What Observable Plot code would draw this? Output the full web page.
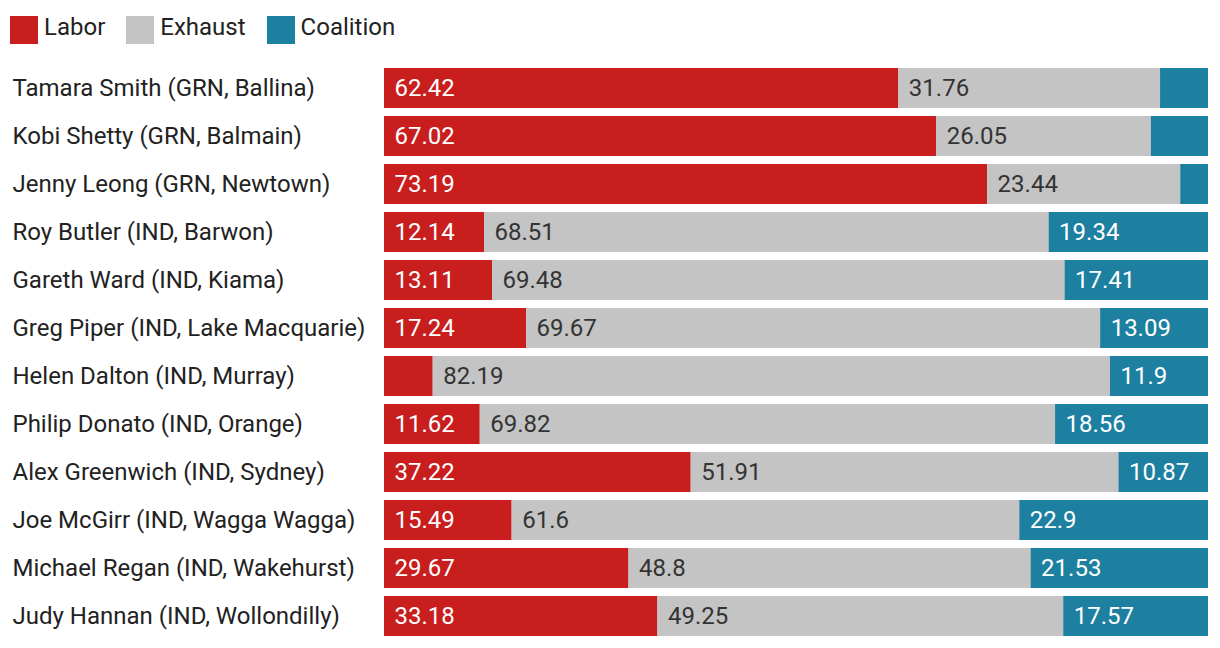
<!DOCTYPE html>
<html><head><meta charset="utf-8">
<script src="https://cdn.jsdelivr.net/npm/d3@7"></script>
<script src="https://cdn.jsdelivr.net/npm/@observablehq/plot@0.6"></script>
<style>
body{margin:0;background:#fff;font-family:Roboto,sans-serif;}
#legend{height:56px;box-sizing:border-box;padding:12px 0 0 10px;display:flex;align-items:flex-start;}
.item{display:flex;align-items:center;margin-right:21px;font-size:24px;color:#222;height:30px;}
.sw{width:28px;height:28px;margin-right:6px;margin-top:4px;align-self:flex-start;}
</style></head><body>
<div id="legend"></div>
<div id="chart"></div>
<script>
const names = ["Tamara Smith (GRN, Ballina)","Kobi Shetty (GRN, Balmain)","Jenny Leong (GRN, Newtown)","Roy Butler (IND, Barwon)","Gareth Ward (IND, Kiama)","Greg Piper (IND, Lake Macquarie)","Helen Dalton (IND, Murray)","Philip Donato (IND, Orange)","Alex Greenwich (IND, Sydney)","Joe McGirr (IND, Wagga Wagga)","Michael Regan (IND, Wakehurst)","Judy Hannan (IND, Wollondilly)"];
const labor = [62.42,67.02,73.19,12.14,13.11,17.24,5.91,11.62,37.22,15.49,29.67,33.18];
const exhaust = [31.76,26.05,23.44,68.51,69.48,69.67,82.19,69.82,51.91,61.6,48.8,49.25];
const coalition = [5.82,6.93,3.37,19.34,17.41,13.09,11.9,18.56,10.87,22.9,21.53,17.57];
const series = ["Labor","Exhaust","Coalition"];
const colors = ["#c81e1e","#c4c4c4","#1e80a0"];

const data = [];
names.forEach((n,i)=>{
  [labor,exhaust,coalition].forEach((arr,j)=>data.push({name:n, series:series[j], value:arr[i]}));
});

const lg = document.getElementById("legend");
series.forEach((s,i)=>{
  const it = document.createElement("div"); it.className="item";
  const sw = document.createElement("div"); sw.className="sw"; sw.style.background=colors[i];
  it.appendChild(sw); it.appendChild(document.createTextNode(s)); lg.appendChild(it);
});

const show = d => d.value >= 8 ? String(d.value) : "";
const chart = Plot.plot({
  width: 1220, height: 592,
  marginLeft: 384, marginRight: 12, marginTop: 8, marginBottom: 8,
  style: {fontFamily: "Roboto, sans-serif", fontSize: "24px"},
  x: {domain:[0,1], axis: null},
  y: {domain: names, axis: null, paddingInner: 8/48, paddingOuter: 4/48},
  color: {domain: series, range: colors},
  marks: [
    Plot.barX(data, Plot.stackX({x:"value", y:"name", fill:"series", order: series, offset:"normalize"})),
    Plot.text(data, Plot.stackX1({x:"value", y:"name", z:"series", order: series, offset:"normalize",
      text: d => d.series === "Exhaust" ? "" : show(d), fill:"white", textAnchor:"start", dx:10, fontSize:24})),
    Plot.text(data, Plot.stackX1({x:"value", y:"name", z:"series", order: series, offset:"normalize",
      text: d => d.series === "Exhaust" ? show(d) : "", fill:"#333", textAnchor:"start", dx:10, fontSize:24})),
    Plot.text(names, {y: d=>d, text: d=>d, frameAnchor:"left", textAnchor:"start", dx:-372, fill:"#222", fontSize:24})
  ]
});
document.getElementById("chart").appendChild(chart);
</script>
</body></html>
